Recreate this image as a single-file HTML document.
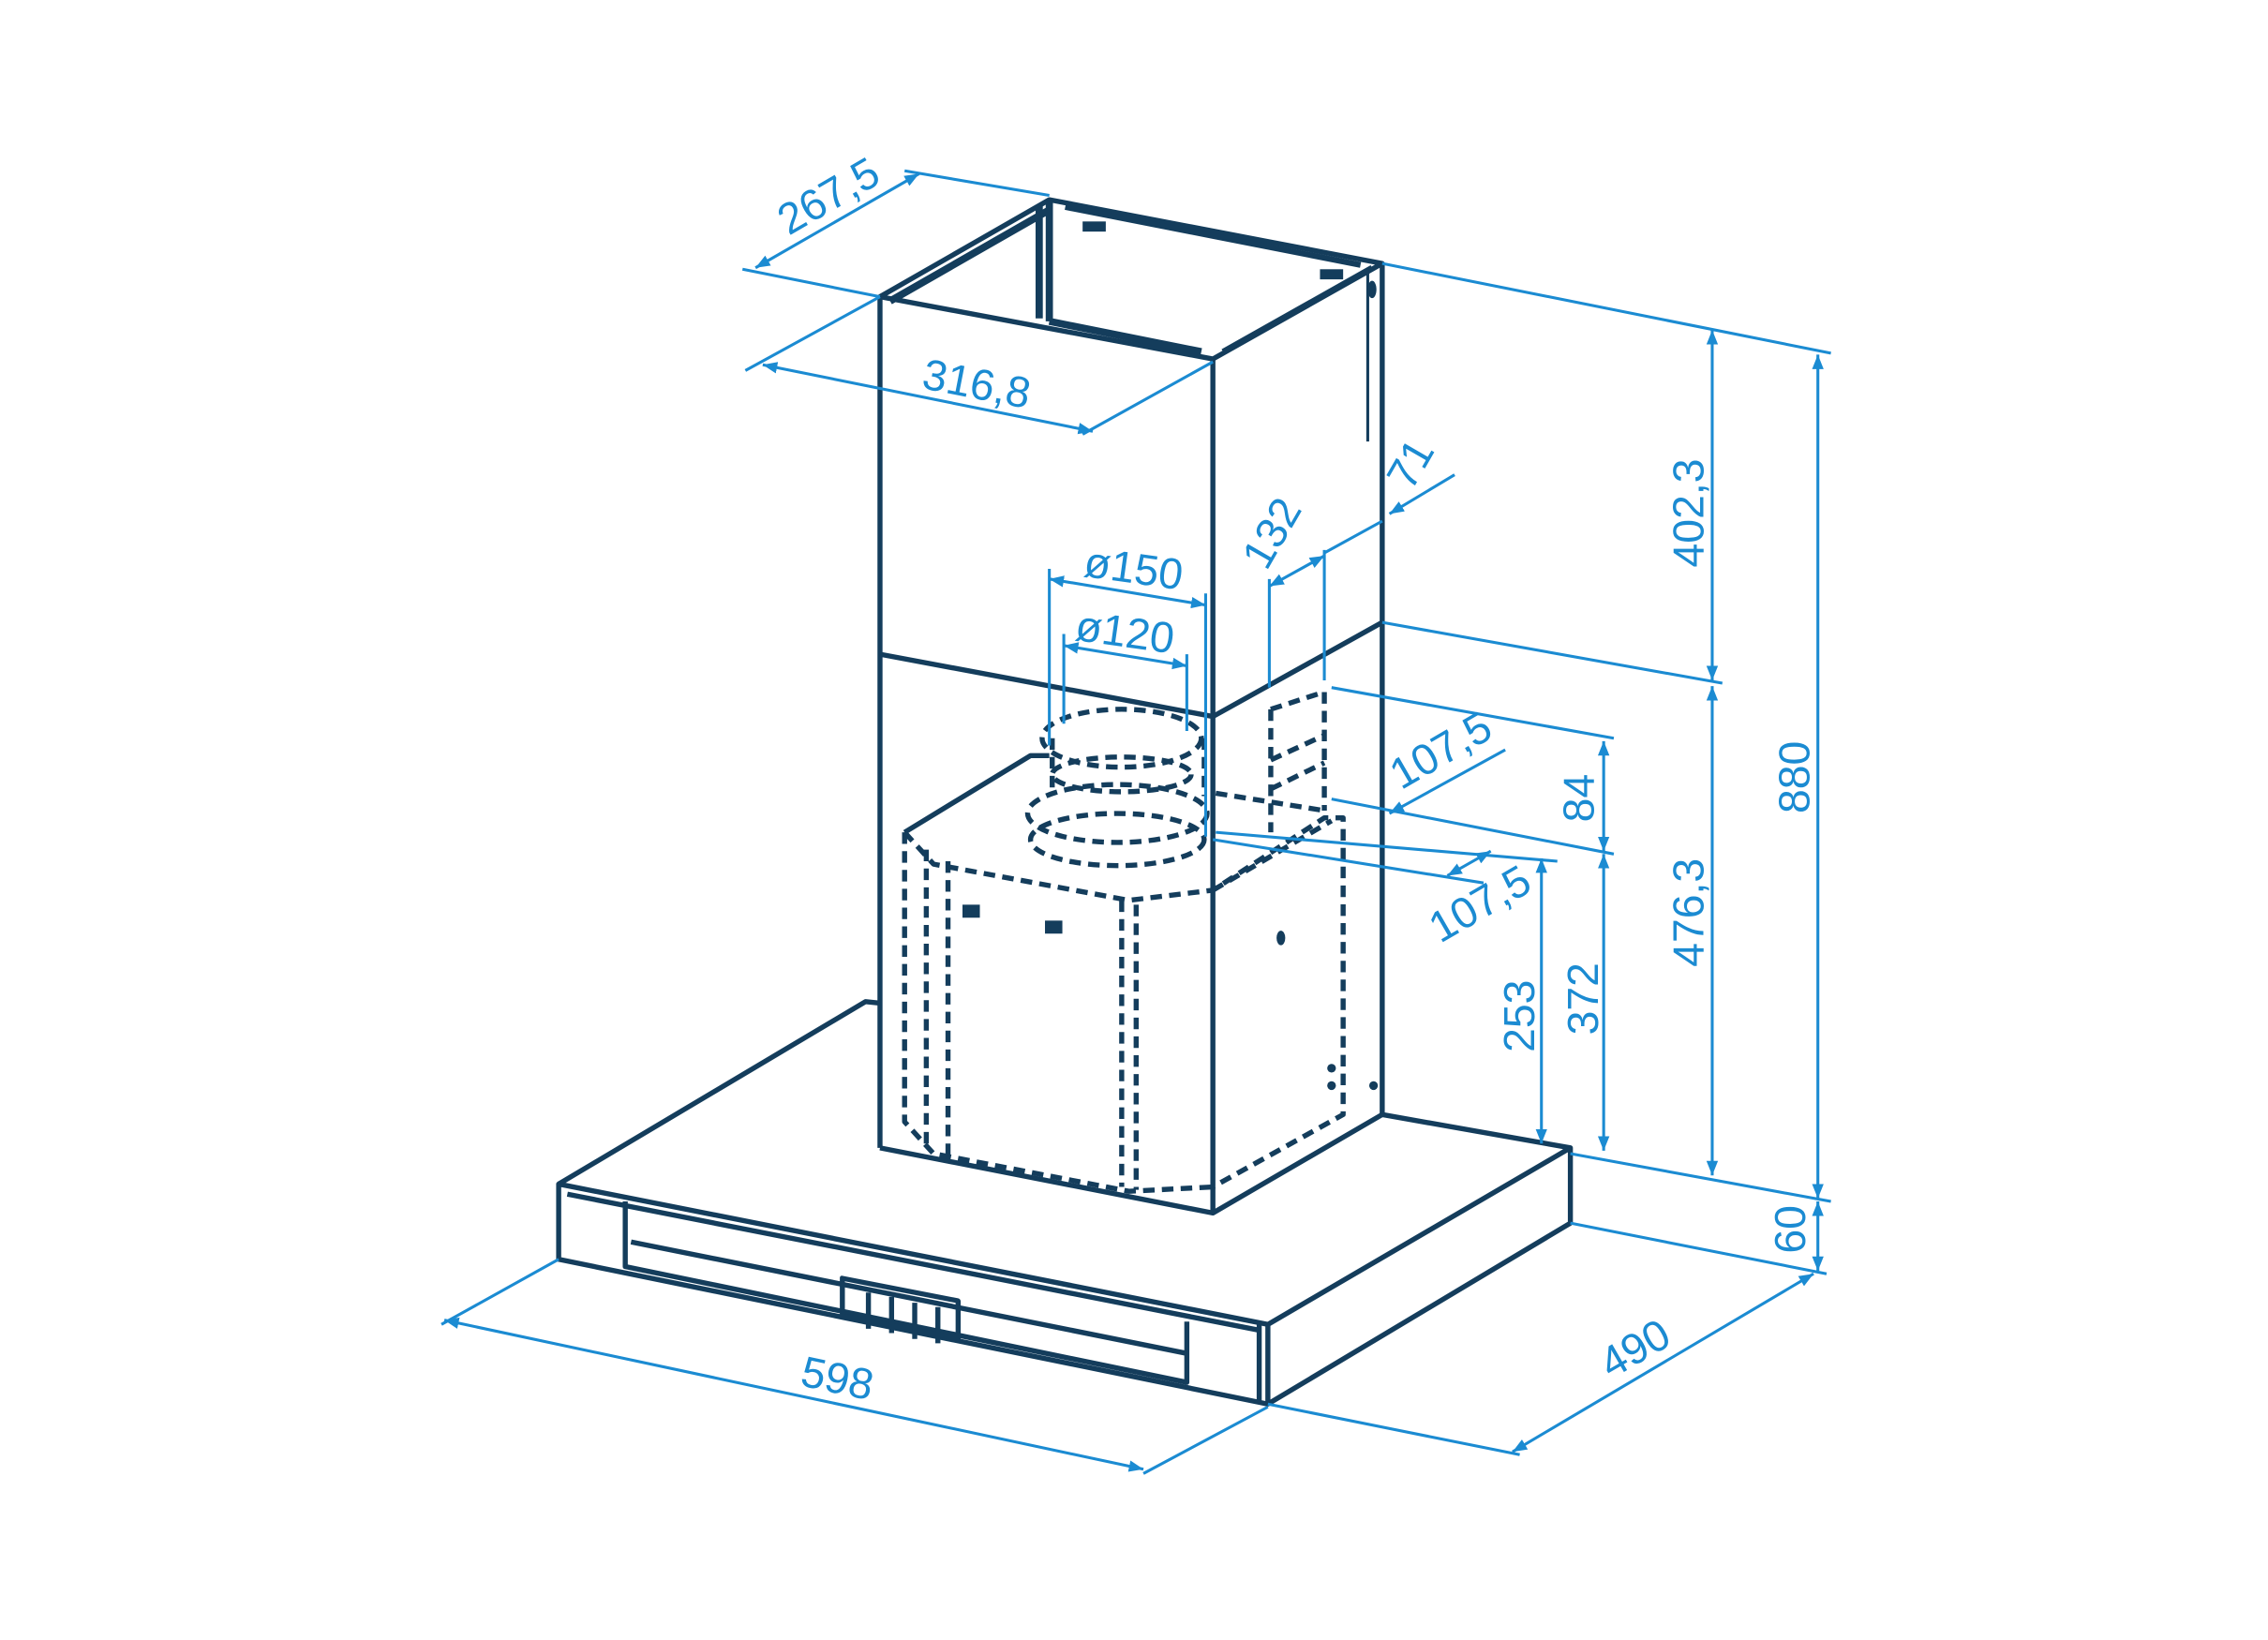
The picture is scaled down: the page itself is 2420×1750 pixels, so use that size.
<!DOCTYPE html>
<html><head><meta charset="utf-8"><style>
html,body{margin:0;padding:0;background:#fff}
svg{display:block}
text{font-family:"Liberation Sans",sans-serif;fill:#1b8bd2;font-size:30px}
</style></head><body>
<svg width="2420" height="1750" viewBox="0 0 1567 1133" preserveAspectRatio="none" xmlns="http://www.w3.org/2000/svg">
<defs>
<marker id="a" viewBox="0 0 10 10" refX="10" refY="5" markerWidth="10" markerHeight="10" orient="auto-start-reverse" markerUnits="userSpaceOnUse"><path d="M0,1 L10,5 L0,9z" fill="#1b8bd2"/></marker>
</defs>
<rect width="1567" height="1133" fill="#fff"/>
<g stroke="#143d5c" stroke-width="3.5" fill="none" stroke-linejoin="round">
<path d="M608,205 L838,248 L955,182 L725,138 Z"/>
<path d="M608,205 L608,793 M838,248 L838,838 M955,182 L955,770"/>
<path d="M608,452 L838,495 L955,430"/>
<path d="M615,208 L725,145 M725,138 L725,222 M718,142 L718,220 M725,222 L830,243" stroke-width="5"/>
<path d="M736,143 L940,183 M845,243 L948,185" stroke-width="4"/>
<path d="M945,186 L945,305" stroke-width="2"/>
<path d="M386,818 L598,692 L608,693"/>
<path d="M955,770 L1085,793 L876,915 L386,818 L386,870 L876,970 L1085,845 L1085,793"/>
<path d="M876,915 L876,970 M870,914 L870,968"/>
<path d="M392,825 L870,919 M432,830 L432,875 L820,955 L820,913 M436,858 L820,935"/>
<path d="M608,793 L838,838 L955,770"/>
<rect x="582" y="890" width="80" height="26" transform="skewY(11) translate(0,-120)"/>
<path d="M600,893 L600,918 M616,896 L616,921 M632,900 L632,925 M648,903 L648,928"/>
<path d="M625,575 L712,522 L725,522" />
<g stroke-dasharray="8,5">
<path d="M625,575 L625,775 L645,797 L780,823 L838,820"/>
<path d="M640,587 L640,795 M655,595 L655,798"/>
<path d="M625,575 L645,597 L780,622 L838,615 L915,565 L928,565 L928,770 L838,820"/>
<path d="M775,622 L775,820 M785,625 L785,822"/>
<path d="M840,548 L915,560 M838,615 L920,567"/>
<ellipse cx="775" cy="510" rx="55" ry="20"/>
<ellipse cx="775" cy="535" rx="48" ry="12"/>
<path d="M727,510 L727,545 M832,510 L832,550"/>
<ellipse cx="772" cy="562" rx="62" ry="20"/>
<ellipse cx="772" cy="580" rx="60" ry="18"/>
<path d="M878,490 L915,478 L915,560 M878,490 L878,575 M878,525 L915,508 M878,545 L915,527"/>
</g>
<g fill="#143d5c" stroke="none">
<rect x="665" y="625" width="12" height="9"/><rect x="722" y="636" width="12" height="9"/>
<ellipse cx="885" cy="648" rx="3" ry="5"/><circle cx="920" cy="738" r="3"/><circle cx="920" cy="750" r="3"/><circle cx="949" cy="750" r="3"/>
<rect x="748" y="153" width="16" height="7"/><rect x="912" y="186" width="16" height="7"/><ellipse cx="948" cy="200" rx="3" ry="6"/>
</g>
</g>
<g stroke="#1b8bd2" stroke-width="2" fill="none">
<path d="M725,135 L625,118 M608,205 L513,186 M608,205 L515,256 M838,250 L748,300"/>
<path d="M522,185 L635,120" marker-start="url(#a)" marker-end="url(#a)"/>
<path d="M527,252 L755,298" marker-start="url(#a)" marker-end="url(#a)"/>
<path d="M955,182 L1265,244 M955,430 L1190,472 M1085,797 L1265,830 M1085,845 L1262,880"/>
<path d="M1256,245 L1256,828" marker-start="url(#a)" marker-end="url(#a)"/>
<path d="M1183,228 L1183,470" marker-start="url(#a)" marker-end="url(#a)"/>
<path d="M1183,474 L1183,812" marker-start="url(#a)" marker-end="url(#a)"/>
<path d="M1256,830 L1256,878" marker-start="url(#a)" marker-end="url(#a)"/>
<path d="M876,970 L1050,1005 M386,870 L305,915 M876,972 L790,1018"/>
<path d="M1045,1003 L1253,880" marker-start="url(#a)" marker-end="url(#a)"/>
<path d="M307,912 L790,1015" marker-start="url(#a)" marker-end="url(#a)"/>
<path d="M1065,593 L1065,790" marker-start="url(#a)" marker-end="url(#a)"/>
<path d="M1108,590 L1108,795" marker-start="url(#a)" marker-end="url(#a)"/>
<path d="M1108,512 L1108,588" marker-start="url(#a)" marker-end="url(#a)"/>
<path d="M920,475 L1115,510 M920,552 L1115,590 M840,575 L1076,595 M838,580 L1025,610"/>
<path d="M960,562 L1040,518" marker-start="url(#a)"/>
<path d="M1000,605 L1030,588" marker-start="url(#a)" marker-end="url(#a)"/>
<path d="M877,405 L915,384" marker-start="url(#a)" marker-end="url(#a)"/>
<path d="M877,400 L877,475 M915,380 L915,470 M915,382 L955,360"/>
<path d="M960,355 L1005,328" marker-start="url(#a)"/>
<path d="M725,393 L725,515 M833,410 L833,578 M735,438 L735,500 M820,452 L820,505"/>
<path d="M725,400 L833,418" marker-start="url(#a)" marker-end="url(#a)"/>
<path d="M735,446 L820,460" marker-start="url(#a)" marker-end="url(#a)"/>
</g>
<g>
<text transform="translate(545,163) rotate(-30)">267,5</text>
<text transform="translate(636,268) rotate(11)">316,8</text>
<text transform="translate(1177,392) rotate(-90)">402,3</text>
<text transform="translate(1177,668) rotate(-90)">476,3</text>
<text transform="translate(1250,562) rotate(-90)">880</text>
<text transform="translate(1247,866) rotate(-90)">60</text>
<text transform="translate(1113,953) rotate(-30)">490</text>
<text transform="translate(552,957) rotate(12)">598</text>
<text transform="translate(1060,727) rotate(-90)">253</text>
<text transform="translate(1104,715) rotate(-90)">372</text>
<text transform="translate(1101,568) rotate(-90)">84</text>
<text transform="translate(968,546) rotate(-30)">107,5</text>
<text transform="translate(995,652) rotate(-30)">107,5</text>
<text transform="translate(875,395) rotate(-60)">132</text>
<text transform="translate(975,340) rotate(-60)">71</text>
<text transform="translate(748,398) rotate(8)">ø150</text>
<text transform="translate(742,442) rotate(8)">ø120</text>
</g>
</svg>
</body></html>
